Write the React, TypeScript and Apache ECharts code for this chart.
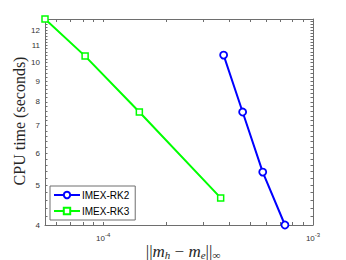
import React, { useEffect, useRef } from "react";
import * as echarts from "echarts";

const rk2Err = [3.75e-4, 4.62e-4, 5.76e-4, 7.35e-4];
const rk2Time = [10.42, 7.56, 5.39, 4.0];
const rk3Err = [5.28e-5, 8.2e-5, 1.487e-4, 3.63e-4];
const rk3Time = [12.77, 10.36, 7.56, 4.66];

const xMin = 5.28e-5;
const xMax = 1e-3;
const yMin = 4.0;
const yMax = 12.77;

const xLabelValues = [1e-4, 1e-3];
const xTickValues = [6e-5, 7e-5, 8e-5, 9e-5, 1e-4, 2e-4, 3e-4, 4e-4, 5e-4, 6e-4, 7e-4, 8e-4, 9e-4, 1e-3];
const yLabelValues = [4, 5, 6, 7, 8, 9, 10, 11, 12];
const yTickValues: number[] = [];
for (let i = 0; i <= 43; i++) yTickValues.push(Math.round((4 + i * 0.2) * 10) / 10);

const AXIS_COLOR = "#6e6e6e";
const LABEL_COLOR = "#333";

export default function App() {
  const ref = useRef<HTMLDivElement>(null);
  useEffect(() => {
    if (!ref.current) return;
    const chart = echarts.init(ref.current, null, { renderer: "svg" });
    const axisLine = { show: true, lineStyle: { color: AXIS_COLOR, width: 1 } };
    const mkX = (pos: "bottom" | "top", labels: boolean) => ({
      type: "log",
      position: pos,
      min: xMin,
      max: xMax,
      axisLine,
      splitLine: { show: false },
      axisTick: {
        show: true,
        inside: true,
        length: 3,
        customValues: xTickValues,
        lineStyle: { color: AXIS_COLOR, width: 1 },
      },
      axisLabel: {
        show: labels,
        customValues: xLabelValues,
        margin: 7,
        color: LABEL_COLOR,
        fontFamily: "Liberation Sans",
        fontSize: 8,
        formatter: (v: number) => `{b|10}{s|${Math.round(Math.log10(v))}}`,
        rich: {
          b: { fontSize: 8, color: LABEL_COLOR, fontFamily: "Liberation Sans" },
          s: { fontSize: 6, color: LABEL_COLOR, fontFamily: "Liberation Sans", verticalAlign: "top", padding: [0, 0, 6, 0] },
        },
      },
    });
    const mkY = (pos: "left" | "right", labels: boolean) => ({
      type: "log",
      position: pos,
      min: yMin,
      max: yMax,
      axisLine,
      splitLine: { show: false },
      axisTick: {
        show: true,
        inside: true,
        length: 2.5,
        customValues: yTickValues,
        lineStyle: { color: AXIS_COLOR, width: 1 },
      },
      axisLabel: {
        show: labels,
        customValues: yLabelValues,
        margin: 5,
        color: LABEL_COLOR,
        fontFamily: "Liberation Sans",
        fontSize: 8,
      },
    });
    chart.setOption({
      animation: false,
      backgroundColor: "#fff",
      grid: { left: 45, top: 19, width: 268, height: 206, containLabel: false, outerBoundsMode: "none" },
      xAxis: [mkX("bottom", true), mkX("top", false)],
      yAxis: [mkY("left", true), mkY("right", false)],
      graphic: [
        {
          type: "text",
          x: 183,
          y: 251,
          style: {
            text: "{n|||}{i|m}{s|h}{n| − }{i|m}{s|e}{n|||}{s|∞}",
            align: "center",
            verticalAlign: "middle",
            rich: {
              n: { fontFamily: "Liberation Serif", fontSize: 17, fill: "#262626" },
              i: { fontFamily: "Liberation Serif", fontSize: 17, fontStyle: "italic", fill: "#262626" },
              s: { fontFamily: "Liberation Serif", fontSize: 11, fontStyle: "italic", fill: "#262626", verticalAlign: "bottom", padding: [7, 0, 0, 0] },
            },
          },
        },
        {
          type: "text",
          x: 19,
          y: 121,
          rotation: Math.PI / 2,
          style: {
            text: "CPU time (seconds)",
            align: "center",
            verticalAlign: "middle",
            fontFamily: "Liberation Serif",
            fontSize: 16,
            fill: "#262626",
          },
        },
      ],
      legend: {
        orient: "vertical",
        left: 50,
        top: 186,
        itemWidth: 26,
        itemHeight: 8,
        itemGap: 6,
        padding: [4, 6, 4, 3],
        borderColor: AXIS_COLOR,
        borderWidth: 1,
        backgroundColor: "#fff",
        textStyle: { fontFamily: "Liberation Sans", fontSize: 10, color: "#000", padding: [0, 0, 0, -3] },
        data: ["IMEX-RK2", "IMEX-RK3"],
      },
      series: [
        {
          name: "IMEX-RK2",
          type: "line",
          data: rk2Err.map((x, i) => [x, rk2Time[i]]),
          symbol: "circle",
          symbolSize: 7,
          lineStyle: { color: "#0000ff", width: 2 },
          itemStyle: { color: "#fff", borderColor: "#0000ff", borderWidth: 1.8 },
          color: "#0000ff",
        },
        {
          name: "IMEX-RK3",
          type: "line",
          data: rk3Err.map((x, i) => [x, rk3Time[i]]),
          symbol: "rect",
          symbolSize: 6,
          lineStyle: { color: "#00ff00", width: 2 },
          itemStyle: { color: "#fff", borderColor: "#00ff00", borderWidth: 1.5 },
          color: "#00ff00",
        },
      ],
    });
    return () => chart.dispose();
  }, []);
  return (
    <div
      ref={ref}
      style={{ position: "fixed", left: 0, top: 0, width: 346, height: 260 }}
    />
  );
}
